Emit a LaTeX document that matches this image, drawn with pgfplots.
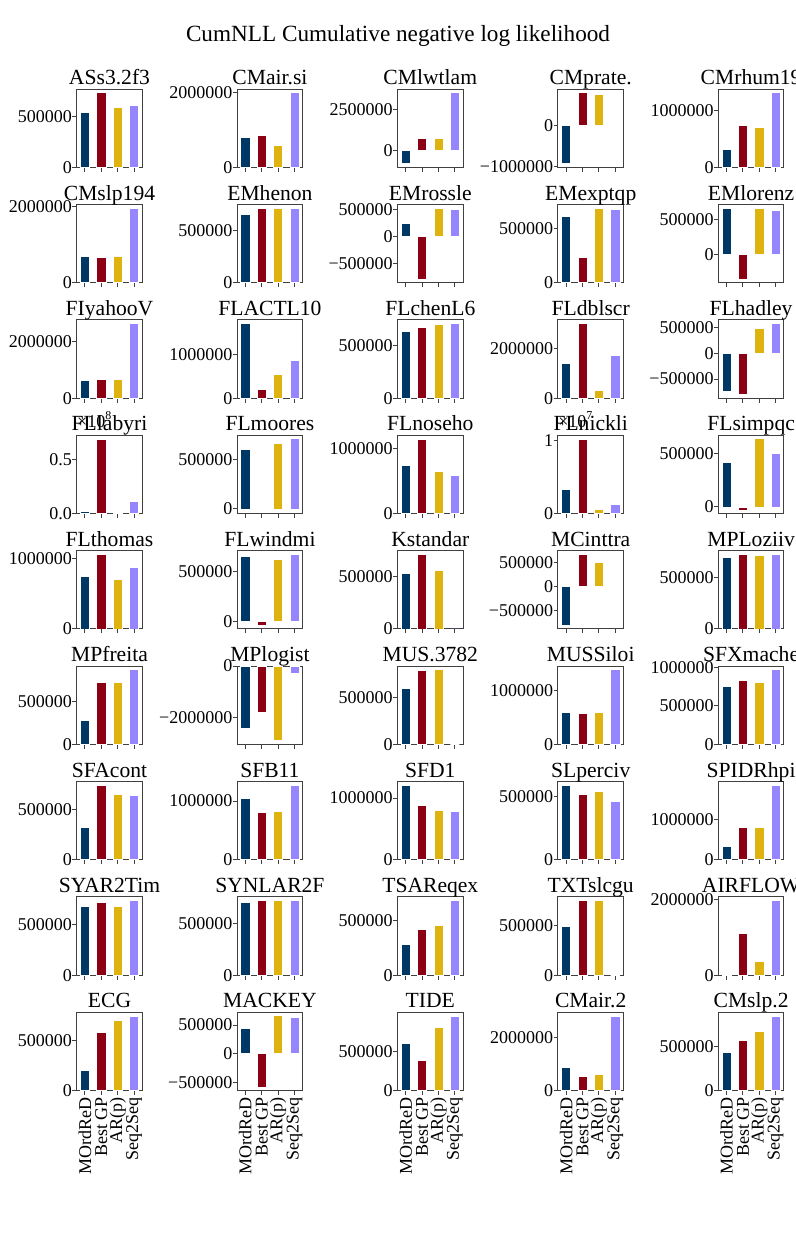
\documentclass[border=0pt]{standalone}
\usepackage{fontspec}
\setmainfont{Liberation Serif}
\usepackage{pgfplots}
\pgfplotsset{compat=1.18}

\definecolor{cblue}{HTML}{003865}
\definecolor{cred}{HTML}{8C0014}
\definecolor{cyel}{HTML}{DEB20F}
\definecolor{cpur}{HTML}{9585FF}
\definecolor{framec}{HTML}{404040}

% one px of the reference = 0.5pt
\pgfplotsset{
  mini/.style={
    scale only axis, width=32.8pt, height=39.15pt,
    anchor=north west,
    xmin=-0.5, xmax=3.5, xtick={0,1,2,3}, xticklabels={},
    ybar, bar width=0.56, bar shift=0pt,
    axis line style={draw=framec, line width=0.5pt},
    every tick/.style={draw=framec, line width=0.5pt},
    tick align=outside, major tick length=2.2pt,
    xtick pos=bottom, ytick pos=left,
    title style={at={(0.5,1)}, anchor=base, yshift=-3.8pt, inner sep=0pt,
      font=\fontsize{10.8}{11}\selectfont},
    tick label style={font=\fontsize{9}{9}\selectfont},
    yticklabel style={inner sep=0pt},
    scaled y ticks=false,
    every axis plot/.append style={draw=white, line width=0.35pt},
  },
  pos/.style 2 args={at={({38.35pt+#1*80.2pt},{-44.5pt-#2*57.7pt})}},
  bottomrow/.style={xticklabels={MOrdReD,Best GP,AR(p),Seq2Seq},
    xticklabel style={rotate=90, anchor=east, inner sep=1pt}},
}

\newcommand{\bars}[4]{%
  \addplot[fill=cblue] coordinates {(0,#1)};
  \addplot[fill=cred] coordinates {(1,#2)};
  \addplot[fill=cyel] coordinates {(2,#3)};
  \addplot[fill=cpur] coordinates {(3,#4)};
}

\begin{document}
\begin{tikzpicture}
\node[anchor=base, font=\fontsize{11.6}{12}\selectfont] at (199pt,-20.5pt) {CumNLL Cumulative negative log likelihood};

% row 1
\begin{axis}[mini, pos={0}{0}, title={ASs3.2f3}, ymin=0, ymax=767500, ytick={0,500000}, yticklabels={0,500000}]
\bars{536000}{731000}{585000}{604000}
\end{axis}
\begin{axis}[mini, pos={1}{0}, title={CMair.si}, ymin=0, ymax=2100000, ytick={0,2000000}, yticklabels={0,2000000}]
\bars{800000}{853000}{595000}{2000000}
\end{axis}
\begin{axis}[mini, pos={2}{0}, title={CMlwtlam}, ymin=-1029500, ymax=3732500, ytick={0,2500000}, yticklabels={0,2500000}]
\bars{-813000}{711000}{711000}{3516000}
\end{axis}
\begin{axis}[mini, pos={3}{0}, title={CMprate.}, ymin=-1021600, ymax=905600, ytick={-1000000,0}, yticklabels={−1000000,0}]
\bars{-934000}{818000}{777000}{0}
\end{axis}
\begin{axis}[mini, pos={4}{0}, title={CMrhum19}, ymin=0, ymax=1390200, ytick={0,1000000}, yticklabels={0,1000000}]
\bars{323000}{747000}{706000}{1324000}
\end{axis}

% row 2
\begin{axis}[mini, pos={0}{1}, title={CMslp194}, ymin=0, ymax=2054900, ytick={0,2000000}, yticklabels={0,2000000}]
\bars{704000}{661000}{694000}{1957000}
\end{axis}
\begin{axis}[mini, pos={1}{1}, title={EMhenon}, ymin=0, ymax=751800, ytick={0,500000}, yticklabels={0,500000}]
\bars{660000}{713000}{713000}{716000}
\end{axis}
\begin{axis}[mini, pos={2}{1}, title={EMrossle}, ymin=-844000, ymax=586000, ytick={-500000,0,500000}, yticklabels={−500000,0,500000}]
\bars{234000}{-779000}{521000}{497000}
\end{axis}
\begin{axis}[mini, pos={3}{1}, title={EMexptqp}, ymin=0, ymax=717200, ytick={0,500000}, yticklabels={0,500000}]
\bars{607000}{232000}{683000}{669000}
\end{axis}
\begin{axis}[mini, pos={4}{1}, title={EMlorenz}, ymin=-403950, ymax=716950, ytick={0,500000}, yticklabels={0,500000}]
\bars{666000}{-353000}{657000}{629000}
\end{axis}

% row 3
\begin{axis}[mini, pos={0}{2}, title={FIyahooV}, ymin=0, ymax=2751000, ytick={0,2000000}, yticklabels={0,2000000}]
\bars{611000}{646000}{646000}{2620000}
\end{axis}
\begin{axis}[mini, pos={1}{2}, title={FLACTL10}, ymin=0, ymax=1794500, ytick={0,1000000}, yticklabels={0,1000000}]
\bars{1709000}{199000}{549000}{863000}
\end{axis}
\begin{axis}[mini, pos={2}{2}, title={FLchenL6}, ymin=0, ymax=747600, ytick={0,500000}, yticklabels={0,500000}]
\bars{642000}{674000}{702000}{712000}
\end{axis}
\begin{axis}[mini, pos={3}{2}, title={FLdblscr}, ymin=0, ymax=3175200, ytick={0,2000000}, yticklabels={0,2000000}]
\bars{1405000}{3024000}{312000}{1716000}
\end{axis}
\begin{axis}[mini, pos={4}{2}, title={FLhadley}, ymin=-868850, ymax=645850, ytick={-500000,0,500000}, yticklabels={−500000,0,500000}]
\bars{-731000}{-800000}{488000}{577000}
\end{axis}

% row 4
\begin{axis}[mini, pos={0}{3}, name=lab, title={FLlabyri}, ymin=0, ymax=0.7277, ytick={0,0.5}, yticklabels={0.0,0.5}]
\bars{0.0186}{0.693}{0.002}{0.109}
\end{axis}
\node[anchor=base west, inner sep=0pt, font=\fontsize{9}{9}\selectfont, yshift=4pt] at (lab.north west) {×10\textsuperscript{8}};
\begin{axis}[mini, pos={1}{3}, title={FLmoores}, ymin=-45850, ymax=742850, ytick={0,500000}, yticklabels={0,500000}]
\bars{597000}{-10000}{657000}{707000}
\end{axis}
\begin{axis}[mini, pos={2}{3}, title={FLnoseho}, ymin=0, ymax=1211700, ytick={0,1000000}, yticklabels={0,1000000}]
\bars{743000}{1154000}{655000}{585000}
\end{axis}
\begin{axis}[mini, pos={3}{3}, name=nick, title={FLnickli}, ymin=0, ymax=1.0742, ytick={0,1}, yticklabels={0,1}]
\bars{0.326}{1.023}{0.06}{0.124}
\end{axis}
\node[anchor=base west, inner sep=0pt, font=\fontsize{9}{9}\selectfont, yshift=4pt] at (nick.north west) {×10\textsuperscript{7}};
\begin{axis}[mini, pos={4}{3}, title={FLsimpqc}, ymin=-61400, ymax=673400, ytick={0,500000}, yticklabels={0,500000}]
\bars{421000}{-28000}{640000}{500000}
\end{axis}

% row 5
\begin{axis}[mini, pos={0}{4}, title={FLthomas}, ymin=0, ymax=1119300, ytick={0,1000000}, yticklabels={0,1000000}]
\bars{747000}{1066000}{714000}{876000}
\end{axis}
\begin{axis}[mini, pos={1}{4}, title={FLwindmi}, ymin=-75650, ymax=708650, ytick={0,500000}, yticklabels={0,500000}]
\bars{653000}{-40000}{623000}{673000}
\end{axis}
\begin{axis}[mini, pos={2}{4}, title={Kstandar}, ymin=0, ymax=748650, ytick={0,500000}, yticklabels={0,500000}]
\bars{529000}{713000}{557000}{0}
\end{axis}
\begin{axis}[mini, pos={3}{4}, title={MCinttra}, ymin=-886550, ymax=753550, ytick={-500000,0,500000}, yticklabels={−500000,0,500000}]
\bars{-812000}{679000}{513000}{0}
\end{axis}
\begin{axis}[mini, pos={4}{4}, title={MPLoziiv}, ymin=0, ymax=759150, ytick={0,500000}, yticklabels={0,500000}]
\bars{694000}{723000}{713000}{723000}
\end{axis}

% row 6
\begin{axis}[mini, pos={0}{5}, title={MPfreita}, ymin=0, ymax=921900, ytick={0,500000}, yticklabels={0,500000}]
\bars{284000}{728000}{728000}{878000}
\end{axis}
\begin{axis}[mini, pos={1}{5}, title={MPlogist}, ymin=-3059700, ymax=0, ytick={-2000000,0}, yticklabels={−2000000,0}]
\bars{-2455000}{-1827000}{-2914000}{-298000}
\end{axis}
\begin{axis}[mini, pos={2}{5}, title={MUS.3782}, ymin=0, ymax=836850, ytick={0,500000}, yticklabels={0,500000}]
\bars{601000}{787000}{797000}{0}
\end{axis}
\begin{axis}[mini, pos={3}{5}, title={MUSSiloi}, ymin=0, ymax=1463700, ytick={0,1000000}, yticklabels={0,1000000}]
\bars{606000}{582000}{606000}{1394000}
\end{axis}
\begin{axis}[mini, pos={4}{5}, title={SFXmache}, ymin=0, ymax=1018500, ytick={0,500000,1000000}, yticklabels={0,500000,1000000}]
\bars{752000}{826000}{800000}{970000}
\end{axis}

% row 7
\begin{axis}[mini, pos={0}{6}, title={SFAcont}, ymin=0, ymax=777000, ytick={0,500000}, yticklabels={0,500000}]
\bars{322000}{740000}{651000}{641000}
\end{axis}
\begin{axis}[mini, pos={1}{6}, title={SFB11}, ymin=0, ymax=1334550, ytick={0,1000000}, yticklabels={0,1000000}]
\bars{1046000}{814000}{820000}{1271000}
\end{axis}
\begin{axis}[mini, pos={2}{6}, title={SFD1}, ymin=0, ymax=1269450, ytick={0,1000000}, yticklabels={0,1000000}]
\bars{1209000}{883000}{807000}{787000}
\end{axis}
\begin{axis}[mini, pos={3}{6}, title={SLperciv}, ymin=0, ymax=621600, ytick={0,500000}, yticklabels={0,500000}]
\bars{592000}{521000}{540000}{466000}
\end{axis}
\begin{axis}[mini, pos={4}{6}, title={SPIDRhpi}, ymin=0, ymax=1935150, ytick={0,1000000}, yticklabels={0,1000000}]
\bars{319000}{811000}{811000}{1843000}
\end{axis}

% row 8
\begin{axis}[mini, pos={0}{7}, title={SYAR2Tim}, ymin=0, ymax=777000, ytick={0,500000}, yticklabels={0,500000}]
\bars{684000}{727000}{684000}{740000}
\end{axis}
\begin{axis}[mini, pos={1}{7}, title={SYNLAR2F}, ymin=0, ymax=756000, ytick={0,500000}, yticklabels={0,500000}]
\bars{704000}{720000}{720000}{720000}
\end{axis}
\begin{axis}[mini, pos={2}{7}, title={TSAReqex}, ymin=0, ymax=718200, ytick={0,500000}, yticklabels={0,500000}]
\bars{285000}{417000}{454000}{684000}
\end{axis}
\begin{axis}[mini, pos={3}{7}, title={TXTslcgu}, ymin=0, ymax=787500, ytick={0,500000}, yticklabels={0,500000}]
\bars{487000}{750000}{750000}{0}
\end{axis}
\begin{axis}[mini, pos={4}{7}, title={AIRFLOW}, ymin=0, ymax=2071650, ytick={0,2000000}, yticklabels={0,2000000}]
\bars{10000}{1105000}{361000}{1973000}
\end{axis}

% row 9
\begin{axis}[mini, bottomrow, pos={0}{8}, title={ECG}, ymin=0, ymax=787500, ytick={0,500000}, yticklabels={0,500000}]
\bars{207000}{580000}{703000}{750000}
\end{axis}
\begin{axis}[mini, bottomrow, pos={1}{8}, title={MACKEY}, ymin=-636800, ymax=722800, ytick={-500000,0,500000}, yticklabels={−500000,0,500000}]
\bars{437000}{-575000}{661000}{632000}
\end{axis}
\begin{axis}[mini, bottomrow, pos={2}{8}, title={TIDE}, ymin=0, ymax=997500, ytick={0,500000}, yticklabels={0,500000}]
\bars{602000}{390000}{810000}{950000}
\end{axis}
\begin{axis}[mini, bottomrow, pos={3}{8}, title={CMair.2}, ymin=0, ymax=2954700, ytick={0,2000000}, yticklabels={0,2000000}]
\bars{889000}{537000}{627000}{2814000}
\end{axis}
\begin{axis}[mini, bottomrow, pos={4}{8}, title={CMslp.2}, ymin=0, ymax=889350, ytick={0,500000}, yticklabels={0,500000}]
\bars{432000}{572000}{674000}{847000}
\end{axis}

\pgfresetboundingbox
\path[use as bounding box] (0,0) rectangle (398pt,-621.5pt);
\end{tikzpicture}
\end{document}
